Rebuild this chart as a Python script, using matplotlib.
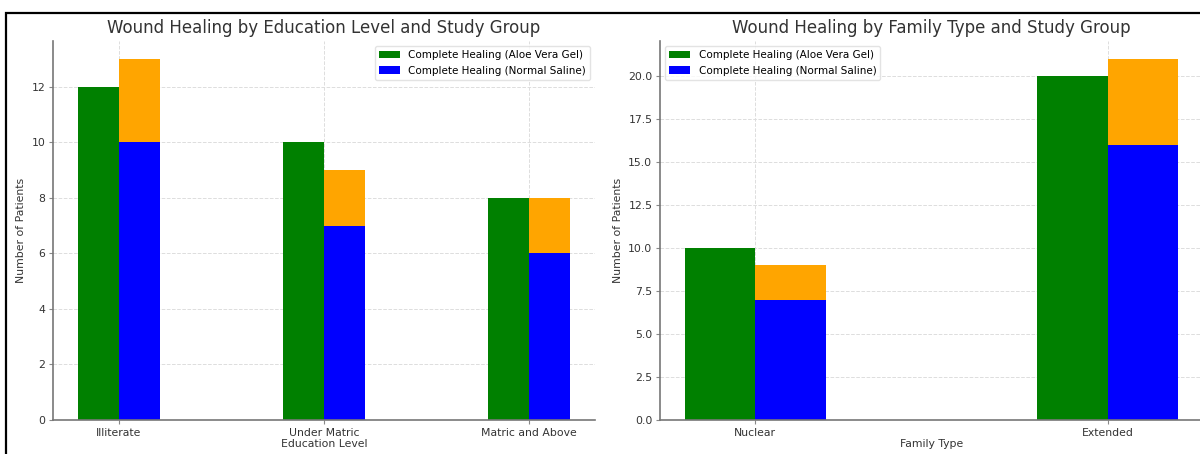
import numpy as np
import matplotlib
matplotlib.use("Agg")
import matplotlib.pyplot as plt
from matplotlib.patches import Rectangle

# data
edu_levels = ["Illiterate", "Under Matric", "Matric and Above"]
edu_aloe = [12, 10, 8]
edu_saline = [10, 7, 6]
edu_saline_extra = [3, 2, 2]

family_types = ["Nuclear", "Extended"]
fam_aloe = [10, 20]
fam_saline = [7, 16]
fam_saline_extra = [2, 5]

width = 0.2
txt = "#333333"

fig = plt.figure(figsize=(12, 4.54), dpi=100)
W, H = 1200, 454
ax1 = fig.add_axes([53 / W, 34 / H, (595 - 53) / W, 379 / H])
ax2 = fig.add_axes([660 / W, 34 / H, (1203 - 660) / W, 379 / H])


def draw(ax, cats, aloe, saline, extra, title, xlabel, loc):
    x = np.arange(len(cats))
    ax.bar(x - width / 2, aloe, width, color="green", label="Complete Healing (Aloe Vera Gel)", zorder=2)
    ax.bar(x + width / 2, saline, width, color="blue", label="Complete Healing (Normal Saline)", zorder=2)
    ax.bar(x + width / 2, extra, width, bottom=saline, color="orange", zorder=2)
    ax.set_xticks(x)
    ax.set_xticklabels(cats)
    ax.set_title(title, fontsize=12, color=txt, pad=6)
    ax.set_xlabel(xlabel, fontsize=7.8, color=txt, labelpad=1)
    ax.set_ylabel("Number of Patients", fontsize=7.8, color=txt)
    ax.tick_params(labelsize=7.8, colors=txt, pad=2.5)
    ax.tick_params(axis="both", color="#888888", length=3)
    for s in ["top", "right"]:
        ax.spines[s].set_visible(False)
    for s in ["left", "bottom"]:
        ax.spines[s].set_color("#777777")
        ax.spines[s].set_linewidth(1.2)
    ax.grid(True, linestyle="--", color="#dddddd", linewidth=0.7, zorder=0)
    ax.set_axisbelow(True)
    ax.legend(loc=loc, fontsize=7.5, framealpha=0.8, edgecolor="#dddddd")


draw(ax1, edu_levels, edu_aloe, edu_saline, edu_saline_extra,
     "Wound Healing by Education Level and Study Group", "Education Level", "upper right")
draw(ax2, family_types, fam_aloe, fam_saline, fam_saline_extra,
     "Wound Healing by Family Type and Study Group", "Family Type", "upper left")

# border of the figure (cropped screenshot look)
fig.patches.append(Rectangle((6 / W, -0.2), 1.2, 1.2 - 13 / H, transform=fig.transFigure,
                             fill=False, edgecolor="black", linewidth=1.6, zorder=10))

fig.savefig("out.png", dpi=100)
